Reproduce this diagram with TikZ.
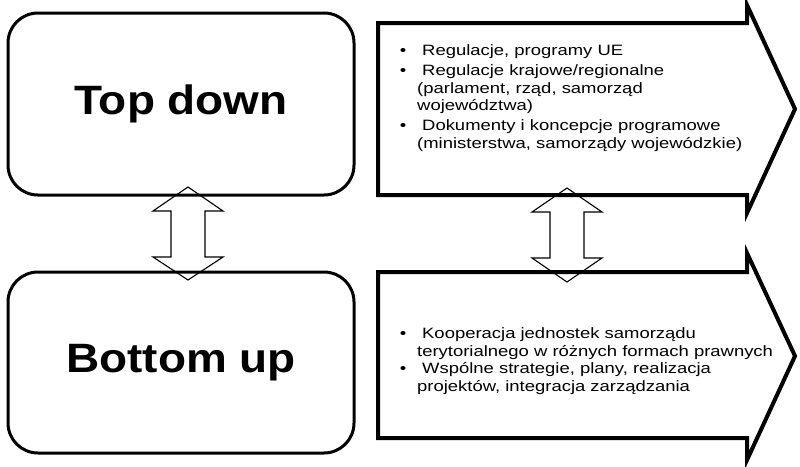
\documentclass[tikz,border=0pt]{standalone}
\usepackage{fontspec}
\setmainfont{Liberation Sans}
\newfontfamily\levelfont[FakeStretch=1.12]{Liberation Sans}
\newfontfamily\itemfont[FakeStretch=1.23]{Liberation Sans}
\tikzset{
  level/.style={draw, line width=3pt, rounded corners=30pt, minimum width=346pt, minimum height=182pt, inner sep=0pt, font=\levelfont\fontsize{41}{48}\selectfont\bfseries},
  body/.style={minimum width=369pt, inner sep=0pt, outer sep=0pt},
  flow/.style={draw, line width=4pt, line join=miter},
  items/.style={align=left, inner sep=0pt, anchor=north west, font=\itemfont\fontsize{15}{17.7}\selectfont},
  link/.style={draw, line width=1.1pt, line join=miter}
}
\newcommand{\bul}{\makebox[12pt]{\textbullet}\hspace{13pt}}
\newcommand{\cont}{\hspace*{20pt}}
\begin{document}
\begin{tikzpicture}[x=1pt, y=-1pt]
\useasboundingbox (0,0) rectangle (800,466);
% left side
\node[level] (topdown) at (181,104) {Top down};
\node[level, minimum height=181pt] (bottomup) at (181,362.5) {Bottom up};
% right side
\node[body, minimum height=172pt] (topbody) at (562.5,109) {};
\node[body, minimum height=166pt] (botbody) at (562.5,355) {};
\draw[flow] (topbody.north west) -- (topbody.north east) -- ++(0,-18) -- ++(48,104) -- ++(-48,104) -- (topbody.south east) -- (topbody.south west) -- cycle;
\draw[flow] (botbody.north west) -- (botbody.north east) -- ++(0,-19) -- ++(48,103) -- ++(-48,104) -- (botbody.south east) -- (botbody.south west) -- cycle;
\node[items] (topitems) at (397,44.5) {\bul Regulacje, programy UE\\[2.3pt]
\bul Regulacje krajowe/regionalne\\
\cont(parlament, rząd, samorząd\\
\cont województwa)\\[2.3pt]
\bul Dokumenty i koncepcje programowe\\
\cont(ministerstwa, samorządy wojewódzkie)};
\node[items] (botitems) at (397,327.5) {\bul Kooperacja jednostek samorządu\\
\cont terytorialnego w różnych formach prawnych\\
\bul Wspólne strategie, plany, realizacja\\
\cont projektów, integracja zarządzania};
% double arrows between the levels
\draw[link] ([xshift=7pt,yshift=9.5pt]topdown.south) -- ++(35,24) -- ++(-18,0) -- ++(0,46) -- ++(18,0) -- ++(-35,23) -- ++(-35,-23) -- ++(18,0) -- ++(0,-46) -- ++(-18,0) -- cycle;
\draw[link] ([xshift=4.5pt,yshift=7pt]topbody.south) -- ++(35,24) -- ++(-18,0) -- ++(0,46) -- ++(18,0) -- ++(-35,24) -- ++(-35,-24) -- ++(18,0) -- ++(0,-46) -- ++(-18,0) -- cycle;
\end{tikzpicture}
\end{document}
